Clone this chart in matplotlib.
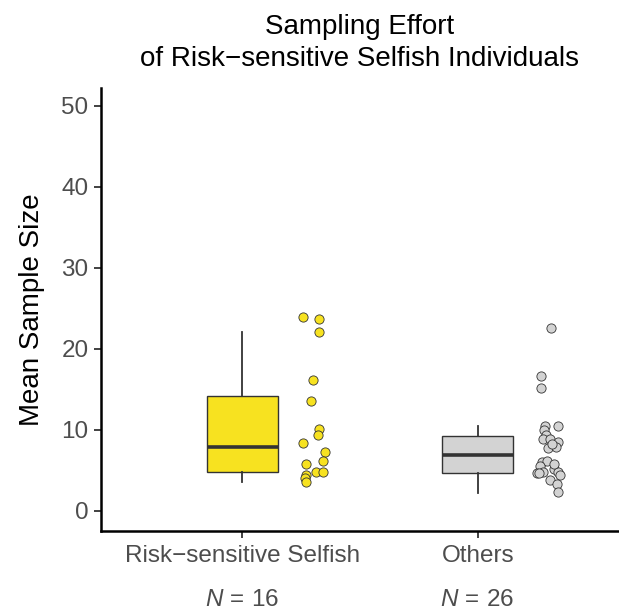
import matplotlib
matplotlib.use("Agg")
import matplotlib.pyplot as plt
from matplotlib.transforms import blended_transform_factory


# data

groups = ["Risk\u2212sensitive Selfish", "Others"]
group_n = [16, 26]
box_fill = ["#F7E220", "#D3D3D3"]

# box stats: lower whisker, q1, median, q3, upper whisker
box_whislo = [3.6, 2.2]
box_q1 = [4.8, 4.6]
box_median = [7.9, 6.9]
box_q3 = [14.2, 9.2]
box_whishi = [22.1, 10.5]

# jittered points (offset from category centre, value)
selfish_offset = [0.26, 0.325, 0.327, 0.30, 0.294, 0.327, 0.323, 0.257,
                  0.35, 0.271, 0.342, 0.313, 0.345, 0.269, 0.265, 0.271]
selfish_values = [23.9, 23.7, 22.1, 16.1, 13.6, 10.1, 9.4, 8.4,
                  7.2, 5.8, 6.1, 4.8, 4.8, 4.4, 4.1, 3.6]

others_offset = [0.311, 0.269, 0.269, 0.287, 0.339, 0.282, 0.291, 0.277,
                 0.305, 0.343, 0.300, 0.333, 0.314, 0.273, 0.294, 0.265,
                 0.251, 0.279, 0.322, 0.339, 0.350, 0.305, 0.336, 0.343,
                 0.259, 0.325]
others_values = [22.6, 16.6, 15.1, 10.5, 10.5, 10.0, 9.4, 8.9,
                 8.8, 8.5, 7.8, 7.9, 8.3, 6.0, 6.1, 5.5,
                 4.7, 4.8, 5.1, 4.8, 4.4, 3.8, 3.3, 2.3,
                 4.6, 5.8]

y_ticks = [0, 10, 20, 30, 40, 50]


# style

plt.rcParams["font.family"] = ["Liberation Sans", "DejaVu Sans"]
plt.rcParams["mathtext.fontset"] = "custom"
plt.rcParams["mathtext.rm"] = "Liberation Sans"
plt.rcParams["mathtext.it"] = "Liberation Sans:italic"

fig = plt.figure(figsize=(6.19, 6.13), dpi=100)
ax = fig.add_axes([0.163, 0.1338, 0.837, 0.7226])

positions = [1, 2]

stats = []
for i in range(len(groups)):
    stats.append({
        "whislo": box_whislo[i],
        "q1": box_q1[i],
        "med": box_median[i],
        "q3": box_q3[i],
        "whishi": box_whishi[i],
        "fliers": [],
    })

bp = ax.bxp(
    stats,
    positions=positions,
    widths=0.3,
    patch_artist=True,
    showcaps=False,
    boxprops=dict(edgecolor="#333333", linewidth=1.0),
    whiskerprops=dict(color="#333333", linewidth=1.3),
    medianprops=dict(color="#333333", linewidth=2.6),
)
for patch, col in zip(bp["boxes"], box_fill):
    patch.set_facecolor(col)

ax.scatter(
    [positions[0] + o for o in selfish_offset],
    selfish_values,
    s=44,
    facecolor=box_fill[0],
    edgecolor="#333333",
    linewidth=0.6,
    zorder=3,
)
ax.scatter(
    [positions[1] + o for o in others_offset],
    others_values,
    s=44,
    facecolor=box_fill[1],
    edgecolor="#333333",
    linewidth=0.6,
    zorder=3,
)


# axes

ax.set_xlim(0.4, 2.6)
ax.set_ylim(-2.5, 52.2)
ax.set_yticks(y_ticks)
ax.set_xticks(positions)
ax.set_xticklabels(groups)

ax.spines["top"].set_visible(False)
ax.spines["right"].set_visible(False)
ax.spines["left"].set_linewidth(1.8)
ax.spines["bottom"].set_linewidth(1.8)

ax.tick_params(axis="both", colors="#333333", width=1.3, length=5,
               labelsize=17.5, labelcolor="#4D4D4D")
ax.tick_params(axis="x", pad=5)
ax.tick_params(axis="y", pad=4)

ax.set_ylabel("Mean Sample Size", fontsize=20, labelpad=12)

trans = blended_transform_factory(ax.transData, ax.transAxes)
for pos, n in zip(positions, group_n):
    ax.text(pos, -0.156, r"$N\,=\,%d$" % n, transform=trans,
            ha="center", va="center", fontsize=17.5, color="#4D4D4D")

ax.set_title("Sampling Effort\nof Risk\u2212sensitive Selfish Individuals",
             fontsize=20, pad=16, linespacing=1.3)

fig.savefig("out.png", dpi=100)
